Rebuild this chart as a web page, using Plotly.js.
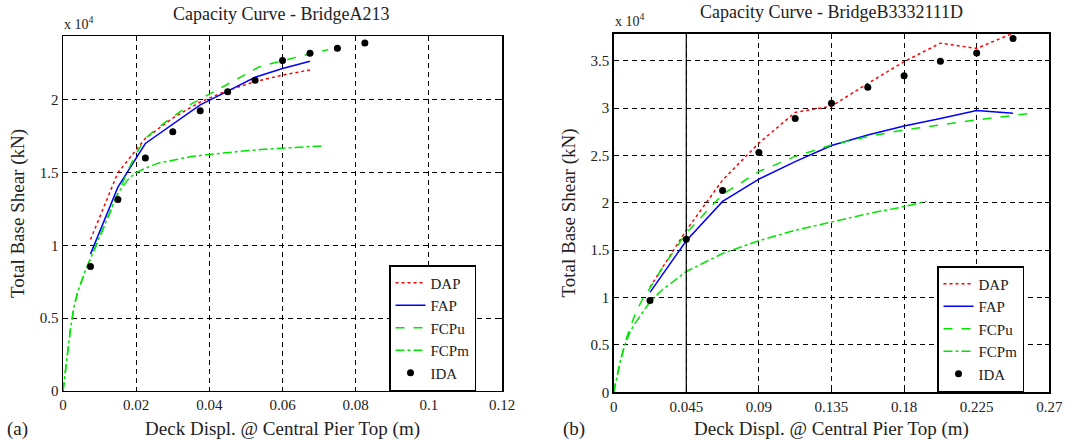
<!DOCTYPE html>
<html>
<head>
<meta charset="utf-8">
<script src="https://cdn.plot.ly/plotly-3.0.1.min.js"></script>
<style>html,body{margin:0;padding:0;background:#fff;}#chart{width:1085px;height:440px;}</style>
</head>
<body>
<div id="chart"></div>
<script>
// ---------- Data (base shear in units of 10^4 kN) ----------
// Bridge A213
const a_ida_x = [0.0075, 0.015, 0.0225, 0.03, 0.0375, 0.045, 0.0525, 0.06, 0.0675, 0.075, 0.0825];
const a_ida_y = [0.855, 1.315, 1.60, 1.78, 1.925, 2.055, 2.135, 2.27, 2.32, 2.355, 2.39];
const a_dap_x = [0.0075, 0.015, 0.0225, 0.03, 0.0375, 0.045, 0.0525, 0.06, 0.0675];
const a_dap_y = [1.04, 1.50, 1.735, 1.875, 1.985, 2.065, 2.125, 2.17, 2.205];
const a_fap_x = [0.0075, 0.015, 0.0225, 0.03, 0.0375, 0.045, 0.0525, 0.06, 0.0675];
const a_fap_y = [0.94, 1.40, 1.70, 1.835, 1.965, 2.06, 2.155, 2.215, 2.265];
const a_fcpu_x = [0, 0.001, 0.002, 0.003, 0.004, 0.006, 0.008, 0.010, 0.012, 0.015, 0.018, 0.020, 0.0225, 0.025, 0.030, 0.035, 0.040, 0.045, 0.050, 0.0535, 0.057, 0.060, 0.065, 0.070, 0.0725];
const a_fcpu_y = [0, 0.22, 0.42, 0.58, 0.68, 0.82, 0.94, 1.06, 1.18, 1.36, 1.53, 1.63, 1.735, 1.79, 1.885, 1.97, 2.04, 2.11, 2.175, 2.225, 2.25, 2.27, 2.30, 2.33, 2.345];
const a_fcpm_x = [0, 0.001, 0.002, 0.003, 0.004, 0.006, 0.008, 0.010, 0.012, 0.015, 0.018, 0.020, 0.0225, 0.026, 0.030, 0.035, 0.040, 0.045, 0.050, 0.055, 0.060, 0.065, 0.0715];
const a_fcpm_y = [0, 0.22, 0.42, 0.58, 0.68, 0.82, 0.94, 1.06, 1.18, 1.36, 1.46, 1.50, 1.53, 1.565, 1.585, 1.61, 1.625, 1.64, 1.65, 1.66, 1.667, 1.675, 1.685];

// Bridge B3332111D
const b_ida_x = [0.0225, 0.045, 0.0675, 0.09, 0.1125, 0.135, 0.1575, 0.18, 0.2025, 0.225, 0.2475];
const b_ida_y = [0.97, 1.615, 2.13, 2.53, 2.89, 3.05, 3.22, 3.34, 3.495, 3.58, 3.735];
const b_dap_x = [0.0225, 0.045, 0.0675, 0.09, 0.1125, 0.135, 0.1575, 0.18, 0.2025, 0.225, 0.2475];
const b_dap_y = [1.11, 1.71, 2.24, 2.63, 2.955, 3.02, 3.26, 3.49, 3.685, 3.63, 3.79];
const b_fap_x = [0.0225, 0.045, 0.0675, 0.09, 0.1125, 0.135, 0.1575, 0.18, 0.2025, 0.225, 0.2475];
const b_fap_y = [1.055, 1.60, 2.015, 2.25, 2.435, 2.605, 2.715, 2.81, 2.89, 2.975, 2.945];
const b_fcpu_x = [0, 0.002, 0.004, 0.007, 0.010, 0.014, 0.018, 0.0225, 0.030, 0.045, 0.0675, 0.09, 0.1125, 0.135, 0.1575, 0.18, 0.2025, 0.225, 0.2585];
const b_fcpu_y = [0, 0.17, 0.32, 0.52, 0.68, 0.85, 0.99, 1.10, 1.31, 1.68, 2.09, 2.33, 2.49, 2.61, 2.70, 2.77, 2.825, 2.875, 2.945];
const b_fcpm_x = [0, 0.002, 0.004, 0.007, 0.010, 0.0125, 0.016, 0.0225, 0.030, 0.045, 0.0675, 0.09, 0.1125, 0.135, 0.1575, 0.18, 0.194];
const b_fcpm_y = [0, 0.17, 0.32, 0.50, 0.63, 0.71, 0.80, 0.955, 1.08, 1.275, 1.465, 1.60, 1.71, 1.80, 1.885, 1.96, 2.015];

const xTicksA = [0, 0.02, 0.04, 0.06, 0.08, 0.1, 0.12];
const xTicksB = [0, 0.045, 0.09, 0.135, 0.18, 0.225, 0.27];
const yTicksA = [0, 0.5, 1, 1.5, 2];
const yTicksB = [0, 0.5, 1, 1.5, 2, 2.5, 3, 3.5];

const RED = '#ff0000', BLUE = '#0000ff', GREEN = '#00e600';
const FONT = 'Liberation Serif, DejaVu Serif, serif';
const TXT = '#222';

function series(xs, ys, name, line, mode, xa, ya, leg, marker) {
  const t = {x: xs, y: ys, name: name, mode: mode, xaxis: xa, yaxis: ya, legend: leg, showlegend: true};
  if (line) t.line = line;
  if (marker) t.marker = marker;
  return t;
}

const traces = [
  series(a_dap_x, a_dap_y, 'DAP', {color: RED, width: 1.5, dash: 'dot'}, 'lines', 'x', 'y', 'legend'),
  series(a_fap_x, a_fap_y, 'FAP', {color: BLUE, width: 1.5}, 'lines', 'x', 'y', 'legend'),
  series(a_fcpu_x, a_fcpu_y, 'FCPu', {color: GREEN, width: 1.5, dash: 'dash'}, 'lines', 'x', 'y', 'legend'),
  series(a_fcpm_x, a_fcpm_y, 'FCPm', {color: GREEN, width: 1.5, dash: 'dashdot'}, 'lines', 'x', 'y', 'legend'),
  series(a_ida_x, a_ida_y, 'IDA', null, 'markers', 'x', 'y', 'legend', {color: '#000', size: 7}),
  series(b_dap_x, b_dap_y, 'DAP', {color: RED, width: 1.5, dash: 'dot'}, 'lines', 'x2', 'y2', 'legend2'),
  series(b_fap_x, b_fap_y, 'FAP', {color: BLUE, width: 1.5}, 'lines', 'x2', 'y2', 'legend2'),
  series(b_fcpu_x, b_fcpu_y, 'FCPu', {color: GREEN, width: 1.5, dash: 'dash'}, 'lines', 'x2', 'y2', 'legend2'),
  series(b_fcpm_x, b_fcpm_y, 'FCPm', {color: GREEN, width: 1.5, dash: 'dashdot'}, 'lines', 'x2', 'y2', 'legend2'),
  series(b_ida_x, b_ida_y, 'IDA', null, 'markers', 'x2', 'y2', 'legend2', {color: '#000', size: 7})
];

function axis(extra) {
  return Object.assign({
    showline: true, linecolor: '#000', linewidth: 1.5, mirror: 'ticks',
    showgrid: true, gridcolor: '#000', griddash: '5px,4px', gridwidth: 1,
    zeroline: false, ticks: 'inside', ticklen: 4, tickcolor: '#000',
    tickfont: {family: FONT, size: 15, color: TXT},
    automargin: false, fixedrange: true
  }, extra);
}

const xTitle = {text: 'Deck Displ. @ Central Pier Top (m)', font: {family: FONT, size: 19, color: TXT}, standoff: 9};
const yTitle = {text: 'Total Base Shear (kN)', font: {family: FONT, size: 19, color: TXT}, standoff: 10};

const legendBase = {
  bgcolor: '#fff', bordercolor: '#000', borderwidth: 1.5,
  font: {family: FONT, size: 15, color: TXT},
  xanchor: 'left', yanchor: 'top', itemwidth: 30, tracegroupgap: 0
};

const layout = {
  width: 1085, height: 440,
  margin: {l: 0, r: 0, t: 0, b: 0},
  paper_bgcolor: '#fff', plot_bgcolor: '#fff',
  font: {family: FONT, color: TXT},
  showlegend: true,
  xaxis: axis({domain: [0.0581, 0.4627], range: [0, 0.12], tickvals: xTicksA, ticktext: xTicksA.map(String), title: xTitle, anchor: 'y'}),
  yaxis: axis({domain: [0.1114, 0.918], range: [0, 2.438], tickvals: yTicksA, ticktext: yTicksA.map(String), title: yTitle, anchor: 'x'}),
  xaxis2: axis({domain: [0.5656, 0.9671], range: [0, 0.27], tickvals: xTicksB, ticktext: xTicksB.map(String), title: xTitle, anchor: 'y2'}),
  yaxis2: axis({domain: [0.1084, 0.9234], range: [0, 3.785], tickvals: yTicksB, ticktext: yTicksB.map(String), title: yTitle, anchor: 'x2'}),
  legend: Object.assign({x: 389/1085, y: 1 - 265/440}, legendBase),
  legend2: Object.assign({x: 937/1085, y: 1 - 266/440}, legendBase),
  shapes: [
    {type: 'line', xref: 'x2', yref: 'y2', x0: 0.045, x1: 0.045, y0: 0, y1: 3.785, line: {color: '#000', width: 1.2}}
  ],
  annotations: [
    {text: 'Capacity Curve - BridgeA213', xref: 'paper', yref: 'paper', x: 0.259, y: 1 - 14/440, xanchor: 'center', yanchor: 'middle', showarrow: false, font: {family: FONT, size: 18, color: TXT}},
    {text: 'Capacity Curve - BridgeB3332111D', xref: 'paper', yref: 'paper', x: 0.7665, y: 1 - 12/440, xanchor: 'center', yanchor: 'middle', showarrow: false, font: {family: FONT, size: 18, color: TXT}},
    {text: 'x 10<sup>4</sup>', xref: 'paper', yref: 'paper', x: 62/1085, y: 1 - 23/440, xanchor: 'left', yanchor: 'middle', showarrow: false, font: {family: FONT, size: 14, color: TXT}},
    {text: 'x 10<sup>4</sup>', xref: 'paper', yref: 'paper', x: 613/1085, y: 1 - 20/440, xanchor: 'left', yanchor: 'middle', showarrow: false, font: {family: FONT, size: 14, color: TXT}},
    {text: '(a)', xref: 'paper', yref: 'paper', x: 5/1085, y: 1 - 429/440, xanchor: 'left', yanchor: 'middle', showarrow: false, font: {family: FONT, size: 19, color: TXT}},
    {text: '(b)', xref: 'paper', yref: 'paper', x: 561/1085, y: 1 - 429/440, xanchor: 'left', yanchor: 'middle', showarrow: false, font: {family: FONT, size: 19, color: TXT}}
  ]
};

Plotly.newPlot('chart', traces, layout, {staticPlot: true, displayModeBar: false});
</script>
</body>
</html>
